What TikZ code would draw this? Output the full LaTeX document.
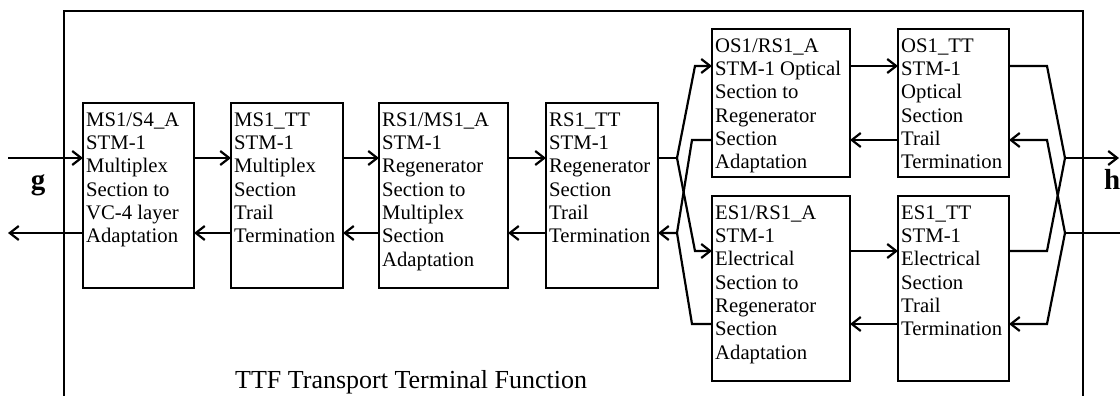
\documentclass[tikz,border=0pt]{standalone}
\usepackage{fontspec}
\setmainfont{Liberation Serif}
\usetikzlibrary{arrows.meta}
\begin{document}
\begin{tikzpicture}[x=1pt,y=-1pt,
  box/.style={draw,line width=1.8pt,rectangle,inner sep=0pt,outer sep=0pt,anchor=north west,minimum height=#1},
  txt/.style={anchor=north west,inner sep=0pt,align=left,font=\fontsize{20.7}{23.3}\selectfont},
  con/.style={line width=2.2pt},
  arr/.style={con,-{Straight Barb[length=9pt,width=14pt,line width=2.2pt]}},
  frame/.style={line width=2.4pt},
  lab/.style={font=\bfseries\fontsize{29}{33}\selectfont,inner sep=0pt}]
\useasboundingbox (0,0) rectangle (1120,396);
% frame
\draw[frame] (64,396) -- (64,11) -- (1083,11) -- (1083,396);
% boxes
\node[box=185,minimum width=111] (b1) at (83,103) {};
\node[box=185,minimum width=112] (b2) at (231,103) {};
\node[box=185,minimum width=129] (b3) at (379,103) {};
\node[box=185,minimum width=112] (b4) at (546,103) {};
\node[box=148,minimum width=138] (b5) at (712,29) {};
\node[box=148,minimum width=111] (b6) at (898,29) {};
\node[box=185,minimum width=138] (b7) at (712,196) {};
\node[box=185,minimum width=111] (b8) at (898,196) {};
% texts
\node[txt] (t1) at ([xshift=3pt]b1.north west) {\rule{0pt}{23pt}MS1/S4\_A\\STM-1\\Multiplex\\Section to\\VC-4 layer\\Adaptation};
\node[txt] (t2) at ([xshift=3pt]b2.north west) {\rule{0pt}{23pt}MS1\_TT\\STM-1\\Multiplex\\Section\\Trail\\Termination};
\node[txt] (t3) at ([xshift=3pt]b3.north west) {\rule{0pt}{23pt}RS1/MS1\_A\\STM-1\\Regenerator\\Section to\\Multiplex\\Section\\Adaptation};
\node[txt] (t4) at ([xshift=3pt]b4.north west) {\rule{0pt}{23pt}RS1\_TT\\STM-1\\Regenerator\\Section\\Trail\\Termination};
\node[txt] (t5) at ([xshift=3pt]b5.north west) {\rule{0pt}{23pt}OS1/RS1\_A\\STM-1 Optical\\Section to\\Regenerator\\Section\\Adaptation};
\node[txt] (t6) at ([xshift=3pt]b6.north west) {\rule{0pt}{23pt}OS1\_TT\\STM-1\\Optical\\Section\\Trail\\Termination};
\node[txt] (t7) at ([xshift=3pt]b7.north west) {\rule{0pt}{23pt}ES1/RS1\_A\\STM-1\\Electrical\\Section to\\Regenerator\\Section\\Adaptation};
\node[txt] (t8) at ([xshift=3pt]b8.north west) {\rule{0pt}{23pt}ES1\_TT\\STM-1\\Electrical\\Section\\Trail\\Termination};
% labels
\node[lab,anchor=base] (g) at (38,189) {g};
\node[lab,anchor=base west] (h) at (1104,189) {h};
\node[anchor=base west,inner sep=0pt,font=\fontsize{26}{30}\selectfont] (ttf) at (235,388) {TTF Transport Terminal Function};
% row coordinates
\coordinate (r1) at (0,158);
\coordinate (r2) at (0,233);
\coordinate (gin) at (8,158);
\coordinate (gout) at (8,233);
% left chain
\draw[arr] (gin) -- (b1.west |- r1);
\draw[arr] (b1.west |- r2) -- (gout);
\draw[arr] (b1.east |- r1) -- (b2.west |- r1);
\draw[arr] (b2.west |- r2) -- (b1.east |- r2);
\draw[arr] (b2.east |- r1) -- (b3.west |- r1);
\draw[arr] (b3.west |- r2) -- (b2.east |- r2);
\draw[arr] (b3.east |- r1) -- (b4.west |- r1);
\draw[arr] (b4.west |- r2) -- (b3.east |- r2);
% fan out from RS1_TT
\coordinate (fo) at (677,158);
\coordinate (fb) at (677,233);
\coordinate (k1) at (695,66);
\coordinate (k2) at (695,251);
\coordinate (k3) at (692,140);
\coordinate (k4) at (692,324);
\draw[con] (b4.east |- fo) -- (fo);
\draw[arr] (fo) -- (k1) -- (b5.west |- k1);
\draw[arr] (fo) -- (k2) -- (b7.west |- k2);
\draw[arr] (b5.west |- k3) -- (k3) -- (fb) -- (b4.east |- fb);
\draw[con] (b7.west |- k4) -- (k4) -- (fb);
% between right boxes
\draw[arr] (b5.east |- k1) -- (b6.west |- k1);
\draw[arr] (b6.west |- k3) -- (b5.east |- k3);
\draw[arr] (b7.east |- k2) -- (b8.west |- k2);
\draw[arr] (b8.west |- k4) -- (b7.east |- k4);
% fan in to h
\coordinate (m1) at (1047,66);
\coordinate (m2) at (1047,251);
\coordinate (m3) at (1047,140);
\coordinate (m4) at (1047,324);
\coordinate (ho) at (1065,158);
\coordinate (hb) at (1065,233);
\coordinate (hend) at (1119,158);
\coordinate (hin) at (1120,233);
\draw[con] (b6.east |- m1) -- (m1) -- (ho);
\draw[con] (b8.east |- m2) -- (m2) -- (ho);
\draw[arr] (ho) -- (hend);
\draw[con] (hin) -- (hb);
\draw[arr] (hb) -- (m3) -- (b6.east |- m3);
\draw[arr] (hb) -- (m4) -- (b8.east |- m4);
\end{tikzpicture}
\end{document}
